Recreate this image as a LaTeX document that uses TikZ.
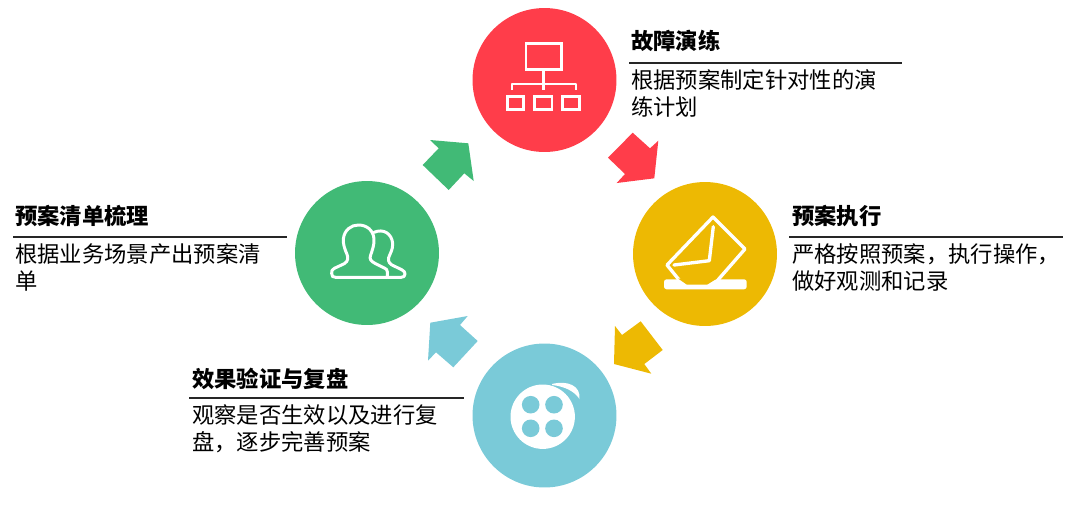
\documentclass[tikz,border=0pt]{standalone}
\usepackage{fontspec}
\setmainfont{Noto Sans CJK SC}
\usepackage{tikz}
\usetikzlibrary{positioning}
\definecolor{cred}{HTML}{FF3D4A}
\definecolor{cgreen}{HTML}{41BA76}
\definecolor{cyellow}{HTML}{EDB903}
\definecolor{cblue}{HTML}{7ACAD8}

\begin{document}
\begin{tikzpicture}[
    x=0.02cm, y=-0.02cm,
    disc/.style={circle, inner sep=0pt, minimum size=2.88cm},
    title/.style={inner sep=0pt, anchor=west, font=\fontsize{12.7}{15.4}\selectfont\bfseries},
    body/.style={inner sep=0pt, anchor=north west, align=left, font=\fontsize{12.7}{15.4}\selectfont},
    rule/.style={black!85, line width=0.6pt},
    icon/.style={white, line width=1.7pt, line join=round, line cap=round}
]
\useasboundingbox (0,0) rectangle (1080,505);

% circles
\node[disc, fill=cred] (drill) at (544.5,80) {};
\node[disc, fill=cyellow] (exec) at (705,254) {};
\node[disc, fill=cblue] (review) at (544.5,415.5) {};
\node[disc, fill=cgreen] (plan) at (367,253) {};

% block arrows
\fill[cgreen] (430,140) -- (468.3,143.3) -- (473.7,181) -- (464.3,173.3) -- (448.7,190) -- (422.7,165) -- (438.7,148.3) -- cycle;
\fill[cred] (632.7,132.7) -- (650,148.3) -- (658.3,140.7) -- (654.3,178.3) -- (616.7,183) -- (625,174) -- (608,157.7) -- cycle;
\fill[cyellow] (640.7,321.3) -- (662.7,350) -- (644.3,364) -- (651.3,373.7) -- (614,364) -- (615,326) -- (622,335) -- cycle;
\fill[cblue] (467.7,316) -- (460,325) -- (477.7,341) -- (453.3,367.3) -- (436,352.3) -- (428,360.7) -- (430.3,322.7) -- cycle;

% network icon
\draw[icon, line cap=butt, line join=miter] (526,43) rectangle (561.5,69);
\draw[icon, line cap=butt] (543.7,69) -- (543.7,90);
\draw[icon, line cap=butt, line width=1.3pt] (511.7,90) -- (511.7,84.3) -- (575.7,84.3) -- (575.7,90);
\draw[icon, line cap=butt, line join=miter] (507.5,96) rectangle (523.5,109.5);
\draw[icon, line cap=butt, line join=miter] (534.5,96) rectangle (552,109.5);
\draw[icon, line cap=butt, line join=miter] (562.5,96) rectangle (579.5,109.5);

% envelope icon
\draw[icon, line width=1.9pt] (680,281) -- (667,265) -- (713,217) -- (745,249) -- (717,281);
\draw[icon, line width=1.9pt] (674,265) -- (709.3,260.7) -- (713.3,226.7);
\fill[white, rounded corners=1.5pt] (664,279.3) rectangle (746.7,289.3);
\fill[cyellow] (678,278.5) -- (687,284.7) -- (707,284.7) -- (717,278.5) -- cycle;

% reel icon
\fill[white] (542.7,416.7) circle (32.2);
\fill[white] (552,384) .. controls (568,380) and (581,386) .. (579.5,399) .. controls (574,391) and (565,386.5) .. (552,385) -- cycle;
\foreach \hx/\hy in {530.7/404.7, 554/404.7, 530.7/428.3, 554/428.3}
    \fill[cblue] (\hx,\hy) circle (8.8);

% people icon
\begin{scope}[shift={(325,215)}, x=0.00667cm, y=-0.00667cm]
\draw[icon] (187,170) .. controls (187,163) and (183,162) .. (178,159) -- (150,145) .. controls (138,139) and (132,132) .. (137,120) .. controls (142,105) and (148,90) .. (147,72) .. controls (145,45) and (125,30) .. (100,30) .. controls (78,30) and (58,45) .. (55,72) .. controls (54,85) and (58,100) .. (66,118) .. controls (70,128) and (70,138) .. (58,146) -- (28,160) .. controls (20,164) and (20,168) .. (20,175) .. controls (20,184) and (23,187) .. (32,187) -- (187,187) -- cycle;
\draw[icon] (147,52) .. controls (175,40) and (200,55) .. (203,85) .. controls (204,105) and (195,115) .. (191,128) .. controls (188,140) and (195,148) .. (205,152) -- (230,164) .. controls (238,168) and (240,172) .. (240,177) .. controls (240,184) and (236,187) .. (228,187) -- (187,187);
\end{scope}

% labels
\node[title] (t1) at (631,41) {故障演练};
\draw[rule] (629,63) -- (902,63);
\node[body] (b1) at (631,69.5) {根据预案制定针对性的演\\练计划};

\node[title] (t2) at (792,216) {预案执行};
\draw[rule] (789,237) -- (1063,237);
\node[body] (b2) at (792,243.5) {严格按照预案，执行操作，\\做好观测和记录};

\node[title] (t3) at (192,379) {效果验证与复盘};
\draw[rule] (189,398) -- (464,398);
\node[body] (b3) at (192,404.5) {观察是否生效以及进行复\\盘，逐步完善预案};

\node[title] (t4) at (15,216) {预案清单梳理};
\draw[rule] (13,237) -- (287,237);
\node[body] (b4) at (15,243.5) {根据业务场景产出预案清\\单};
\end{tikzpicture}
\end{document}
